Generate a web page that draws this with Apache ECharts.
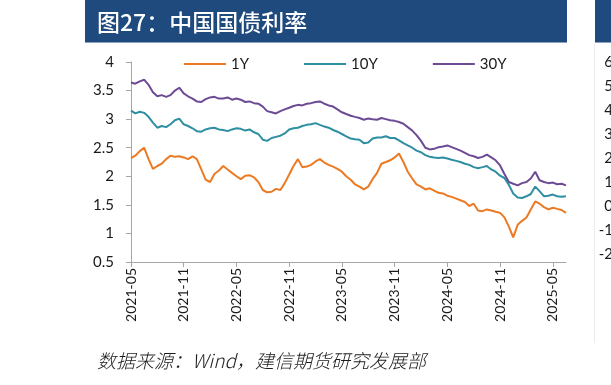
<!DOCTYPE html>
<html><head><meta charset="utf-8">
<script src="https://cdn.jsdelivr.net/npm/echarts@6/dist/echarts.min.js"></script>
<style>html,body{margin:0;padding:0;background:#fff}#c{width:611px;height:385px}</style>
</head><body><div id="c"></div>
<script>
const dates = [
'2021-05-01','2021-05-16','2021-06-01','2021-06-16','2021-07-01','2021-07-16','2021-08-01','2021-08-16','2021-09-01','2021-09-16','2021-10-01','2021-10-16','2021-11-01','2021-11-16','2021-12-01','2021-12-16',
'2022-01-01','2022-01-16','2022-02-01','2022-02-16','2022-03-01','2022-03-16','2022-04-01','2022-04-16','2022-05-01','2022-05-16','2022-06-01','2022-06-16','2022-07-01','2022-07-16','2022-08-01','2022-08-16','2022-09-01','2022-09-16','2022-10-01','2022-10-16','2022-11-01','2022-11-16','2022-12-01','2022-12-16',
'2023-01-01','2023-01-16','2023-02-01','2023-02-16','2023-03-01','2023-03-16','2023-04-01','2023-04-16','2023-05-01','2023-05-16','2023-06-01','2023-06-16','2023-07-01','2023-07-16','2023-08-01','2023-08-16','2023-09-01','2023-09-16','2023-10-01','2023-10-16','2023-11-01','2023-11-16','2023-12-01','2023-12-16',
'2024-01-01','2024-01-16','2024-02-01','2024-02-16','2024-03-01','2024-03-16','2024-04-01','2024-04-16','2024-05-01','2024-05-16','2024-06-01','2024-06-16','2024-07-01','2024-07-16','2024-08-01','2024-08-16','2024-09-01','2024-09-16','2024-10-01','2024-10-16','2024-11-01','2024-11-16','2024-12-01','2024-12-16',
'2025-01-01','2025-01-16','2025-02-01','2025-02-16','2025-03-01','2025-03-16','2025-04-01','2025-04-16','2025-05-01','2025-05-16','2025-06-01','2025-06-16'
];
const y1Y = [
2.32,2.36,2.44,2.50,2.30,2.13,2.18,2.22,2.30,2.36,2.34,2.35,2.33,2.30,2.35,2.30,
2.12,1.94,1.90,2.04,2.10,2.18,2.12,2.06,2.00,1.95,2.01,2.02,1.98,1.90,1.76,1.72,1.73,1.78,1.76,1.88,2.03,2.18,2.30,2.16,
2.17,2.20,2.26,2.30,2.24,2.20,2.17,2.13,2.08,2.00,1.94,1.86,1.82,1.77,1.82,1.95,2.06,2.22,2.25,2.28,2.33,2.40,2.25,2.08,
1.96,1.86,1.82,1.77,1.79,1.75,1.71,1.70,1.66,1.64,1.61,1.58,1.55,1.48,1.52,1.40,1.39,1.42,1.40,1.38,1.36,1.28,1.12,0.93,
1.15,1.22,1.28,1.42,1.56,1.52,1.46,1.42,1.45,1.43,1.41,1.36
];
const y10Y = [
3.15,3.10,3.13,3.11,3.04,2.94,2.85,2.88,2.86,2.91,2.98,3.01,2.91,2.88,2.84,2.79,
2.78,2.82,2.84,2.85,2.82,2.81,2.79,2.82,2.84,2.83,2.80,2.82,2.77,2.74,2.64,2.62,2.67,2.69,2.71,2.75,2.82,2.84,2.85,2.88,
2.90,2.91,2.93,2.90,2.87,2.85,2.81,2.78,2.74,2.70,2.66,2.65,2.64,2.58,2.59,2.66,2.68,2.68,2.70,2.67,2.67,2.63,2.58,2.54,
2.50,2.45,2.42,2.37,2.34,2.33,2.32,2.33,2.31,2.29,2.27,2.25,2.22,2.20,2.16,2.14,2.16,2.18,2.12,2.08,2.01,1.97,1.85,1.70,
1.63,1.62,1.65,1.69,1.82,1.74,1.65,1.66,1.68,1.65,1.64,1.65
];
const y30Y = [
3.64,3.62,3.66,3.69,3.60,3.47,3.40,3.42,3.39,3.42,3.50,3.55,3.45,3.40,3.36,3.31,
3.30,3.35,3.38,3.39,3.36,3.36,3.38,3.34,3.36,3.34,3.30,3.31,3.28,3.27,3.22,3.14,3.12,3.10,3.14,3.17,3.20,3.23,3.25,3.24,
3.27,3.28,3.30,3.31,3.27,3.24,3.22,3.17,3.12,3.09,3.06,3.04,3.02,2.99,3.01,3.00,2.99,3.02,3.00,2.98,2.97,2.95,2.92,2.86,
2.80,2.72,2.62,2.50,2.47,2.48,2.51,2.52,2.54,2.51,2.48,2.45,2.41,2.37,2.35,2.32,2.34,2.38,2.33,2.28,2.19,2.04,1.90,1.87,
1.84,1.88,1.90,1.96,2.08,1.93,1.90,1.88,1.89,1.86,1.87,1.84
];
const seriesNames = ['1Y','10Y','30Y'];
const xTickLabels = ['2021-05','2021-11','2022-05','2022-11','2023-05','2023-11','2024-05','2024-11','2025-05'];
const rightPanelTicks = [-2,-1,0,1,2,3,4,5,6];
const titleText = '图27：中国国债利率';
const sourceText = '数据来源：Wind，建信期货研究发展部';

function monthIndex(s){
  const p = s.split('-').map(Number);
  const d = p[2] || 1;
  return (p[0]-2021)*12 + (p[1]-5) + (d-1)/30.5;
}
function pairs(vals){ return vals.map((v,i)=>[monthIndex(dates[i]), v]); }
const tickVals = xTickLabels.map(monthIndex);

const colors = ['#EB7A23','#2E8FA3','#6C4B94'];
const FONT = 'Lato';
const chart = echarts.init(document.getElementById('c'), null, {renderer:'canvas'});
chart.setOption({
  animation:false,
  grid:[
    {left:131, right:45, top:62, bottom:123},
    {left:630, width:100, top:62, height:192}
  ],
  legend:{
    data:seriesNames, top:56, left:184, padding:0, icon:'rect', itemWidth:42, itemHeight:2, itemGap:55,
    textStyle:{fontFamily:FONT, fontSize:15, color:'#1a1a1a', lineHeight:16}
  },
  xAxis:[{
    type:'value', min:0, max:49.5,
    axisLine:{lineStyle:{color:'#a6a6a6', width:1}},
    axisTick:{show:true, length:5, lineStyle:{color:'#a6a6a6'}, customValues:tickVals},
    axisLabel:{rotate:90, margin:6, fontFamily:FONT, fontSize:14, color:'#1a1a1a',
      customValues:tickVals,
      formatter:(v)=>{ const i = tickVals.findIndex(t=>Math.abs(t-v)<0.01); return i>=0?xTickLabels[i]:''; }},
    splitLine:{show:false}
  },{
    gridIndex:1, type:'value', min:0, max:1, show:false
  }],
  yAxis:[{
    type:'value', min:0.5, max:4, interval:0.5,
    axisLine:{show:true, lineStyle:{color:'#a6a6a6', width:1}},
    axisTick:{show:true, length:5, lineStyle:{color:'#a6a6a6'}},
    axisLabel:{margin:17, fontFamily:FONT, fontSize:15, color:'#1a1a1a'},
    splitLine:{show:false}
  },{
    gridIndex:1, type:'value', min:-2, max:6, interval:1,
    axisLine:{show:false}, axisTick:{show:false}, splitLine:{show:false},
    axisLabel:{margin:17, fontFamily:FONT, fontSize:15, color:'#1a1a1a'}
  }],
  series:[
    {name:'1Y', type:'line', data:pairs(y1Y), symbol:'none', lineStyle:{width:2, color:colors[0]}, itemStyle:{color:colors[0]}},
    {name:'10Y', type:'line', data:pairs(y10Y), symbol:'none', lineStyle:{width:2, color:colors[1]}, itemStyle:{color:colors[1]}},
    {name:'30Y', type:'line', data:pairs(y30Y), symbol:'none', lineStyle:{width:2, color:colors[2]}, itemStyle:{color:colors[2]}},
    {type:'line', xAxisIndex:1, yAxisIndex:1, data:[], silent:true}
  ],
  graphic:[
    {type:'rect', shape:{x:85, y:0, width:482, height:42}, style:{fill:'#1F4A7E'}},
    {type:'rect', shape:{x:85, y:42, width:482, height:1}, style:{fill:'#8aa0bd'}},
    {type:'rect', shape:{x:595, y:0, width:16, height:42}, style:{fill:'#1F4A7E'}},
    {type:'rect', shape:{x:595, y:42, width:16, height:1}, style:{fill:'#8aa0bd'}},
    {type:'rect', shape:{x:594, y:43, width:1, height:300}, style:{fill:'#ececec'}},
    {type:'text', x:97, y:22, style:{text:titleText, fill:'#ffffff', font:'500 23px "Noto Sans CJK SC"', verticalAlign:'middle'}},
    {type:'text', x:97, y:361, style:{text:sourceText, fill:'#1a1a1a', font:'italic 300 19px "Noto Sans CJK SC"', verticalAlign:'middle'}}
  ]
});
</script></body></html>
